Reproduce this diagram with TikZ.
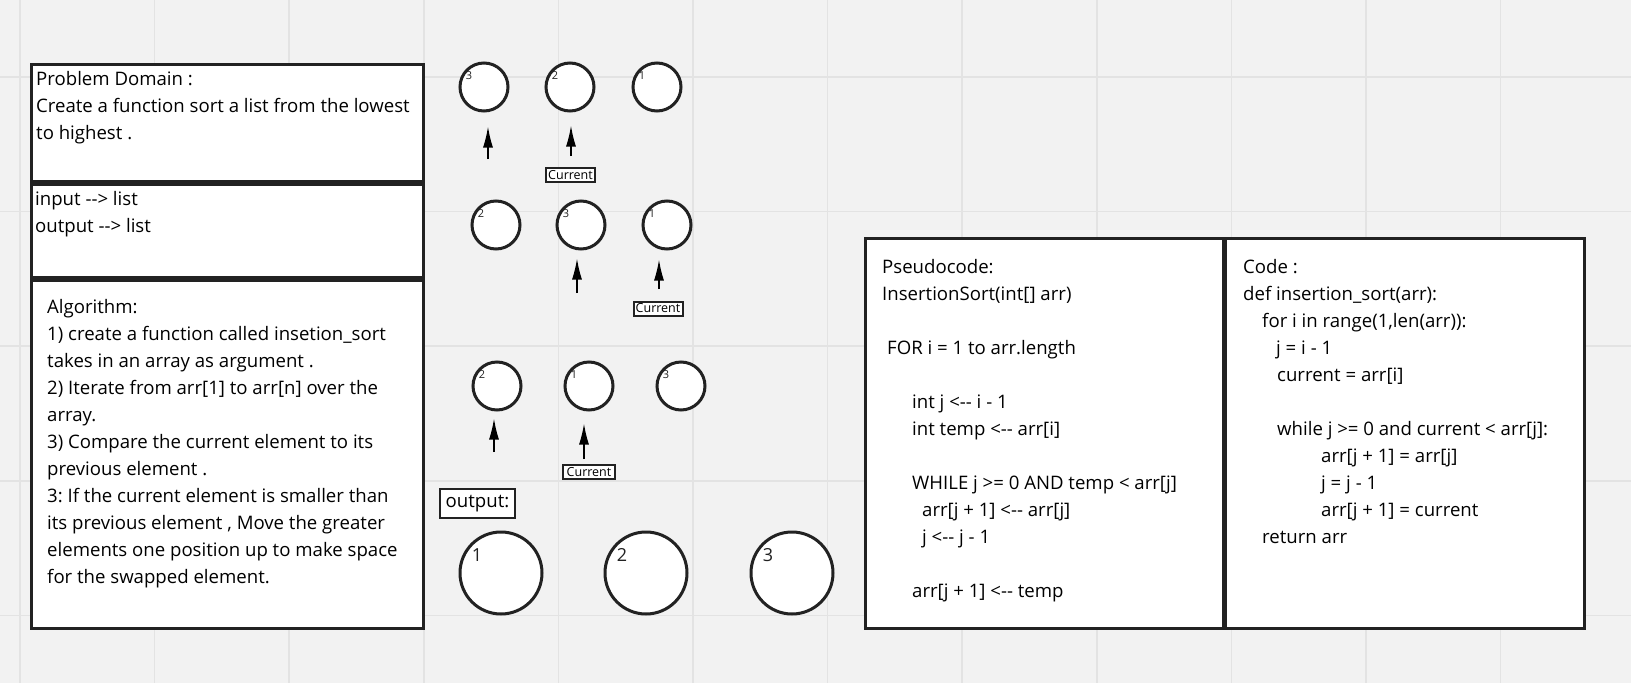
\documentclass[tikz,border=0pt]{standalone}
\usepackage{fontspec}
\newfontfamily\body{Open Sans}
\usetikzlibrary{arrows.meta}
\frenchspacing

\definecolor{ink}{HTML}{222222}
\definecolor{paper}{HTML}{F2F2F2}
\definecolor{gridline}{HTML}{E3E3E3}

\tikzset{
  panel/.style={draw=ink, line width=3pt, fill=white, rectangle, inner sep=0pt, anchor=north west},
  note/.style={anchor=north west, align=left, inner sep=0pt, text=black, font=\body\fontsize{18.6}{27}\selectfont},
  cell/.style={circle, draw=ink, line width=3pt, fill=white, minimum size=48pt, inner sep=0pt},
  bigcell/.style={cell, minimum size=82pt},
  digit/.style={inner sep=0pt, text=ink, font=\body\fontsize{11}{11}\selectfont},
  bigdigit/.style={digit, font=\body\fontsize{18}{18}\selectfont},
  tag/.style={draw=ink, line width=2pt, fill=white, inner sep=0pt, minimum width=49pt, minimum height=14pt, font=\body\fontsize{12.5}{12.5}\selectfont},
  ptr/.style={-{Latex[length=21pt,width=10pt]}, line width=1.5pt, draw=black}
}

\begin{document}
\begin{tikzpicture}[x=1pt, y=-1pt]
    % Board and grid
    \useasboundingbox[fill=paper] (0,0) rectangle (1631,683);
    \foreach \gx in {20,154.6,...,1640}
        \draw[gridline, line width=1.5pt] (\gx,0) -- (\gx,683);
    \foreach \gy in {77,211.6,...,683}
        \draw[gridline, line width=1.5pt] (0,\gy) -- (1631,\gy);

    % Left column of notes
    \node[panel, minimum width=392pt, minimum height=117pt] (domain) at (30,63) {};
    \node[panel, minimum width=392pt, minimum height=93pt] (io) at (30,183) {};
    \node[panel, minimum width=392pt, minimum height=348pt] (algo) at (30,279) {};

    \node[note] at ([shift={(6,3)}]domain.north west) {\strut Problem Domain :\\
        Create a function sort a list from the lowest\\
        to highest .};
    \node[note] at ([shift={(5,3)}]io.north west) {\strut input --> list\\
        output --> list};
    \node[note] at ([shift={(17,15)}]algo.north west) {\strut Algorithm:\\
        1) create a function called insetion\_sort\\
        takes in an array as argument .\\
        2) Iterate from arr[1] to arr[n] over the\\
        array.\\
        3) Compare the current element to its\\
        previous element .\\
        3: If the current element is smaller than\\
        its previous element , Move the greater\\
        elements one position up to make space\\
        for the swapped element.};

    % Passes of the sort
    \foreach \n/\x/\y/\v in {a1/484/87/3, a2/570/87/2, a3/657/87/1,
                             b1/496/225/2, b2/581/225/3, b3/667/225/1,
                             c1/497/386/2, c2/589/386/1, c3/681/386/3} {
        \node[cell] (\n) at (\x,\y) {};
        \node[digit] at ([shift={(-15,-11)}]\n.center) {\v};
    }

    % Pointers under the cells
    \coordinate (p1) at (488,159);
    \coordinate (p2) at (571,156);
    \coordinate (p3) at (577,293);
    \coordinate (p4) at (659,289);
    \coordinate (p5) at (494,452);
    \coordinate (p6) at (584,459);
    \foreach \p/\c/\g in {p1/a1/14, p2/a2/13, p3/b2/8, p4/b3/9, p5/c1/7, p6/c2/12}
        \draw[ptr, shorten >=\g pt] (\p) -- (\p |- \c.south);

    \node[tag] (k1) at (570.5,175) {Current};
    \node[tag] (k2) at (658,308.5) {Current};
    \node[tag, minimum width=52pt] (k3) at (589,472) {Current};

    % Sorted result
    \node[tag, minimum width=75pt, minimum height=29pt, font=\body\fontsize{18.6}{18}\selectfont] (out) at (477.5,503.5) {output:};
    \foreach \n/\x/\v in {o1/501/1, o2/646/2, o3/792/3} {
        \node[bigcell] (\n) at (\x,573) {};
        \node[bigdigit] at ([shift={(-24,-18)}]\n.center) {\v};
    }

    % Pseudocode and code
    \node[panel, minimum width=358pt, minimum height=390pt] (pseudo) at (864,237) {};
    \node[panel, minimum width=359pt, minimum height=390pt] (code) at (1224,237) {};

    \node[note] at ([shift={(18,17)}]pseudo.north west) {\strut Pseudocode:\\
        InsertionSort(int[] arr)\\[27pt]
        \hspace*{5pt}FOR i = 1 to arr.length\\[27pt]
        \hspace*{30pt}int j <-- i - 1\\
        \hspace*{30pt}int temp <-- arr[i]\\[27pt]
        \hspace*{30pt}WHILE j >= 0 AND temp < arr[j]\\
        \hspace*{40pt}arr[j + 1] <-- arr[j]\\
        \hspace*{40pt}j <-- j - 1\\[27pt]
        \hspace*{30pt}arr[j + 1] <-- temp};
    \node[note] at ([shift={(19,17)}]code.north west) {\strut Code :\\
        def insertion\_sort(arr):\\
        \hspace*{19pt}for i in range(1,len(arr)):\\
        \hspace*{33pt}j = i - 1\\
        \hspace*{34pt}current = arr[i]\\[27pt]
        \hspace*{34pt}while j >= 0 and current < arr[j]:\\
        \hspace*{78pt}arr[j + 1] = arr[j]\\
        \hspace*{78pt}j = j - 1\\
        \hspace*{78pt}arr[j + 1] = current\\
        \hspace*{19pt}return arr};
\end{tikzpicture}
\end{document}
